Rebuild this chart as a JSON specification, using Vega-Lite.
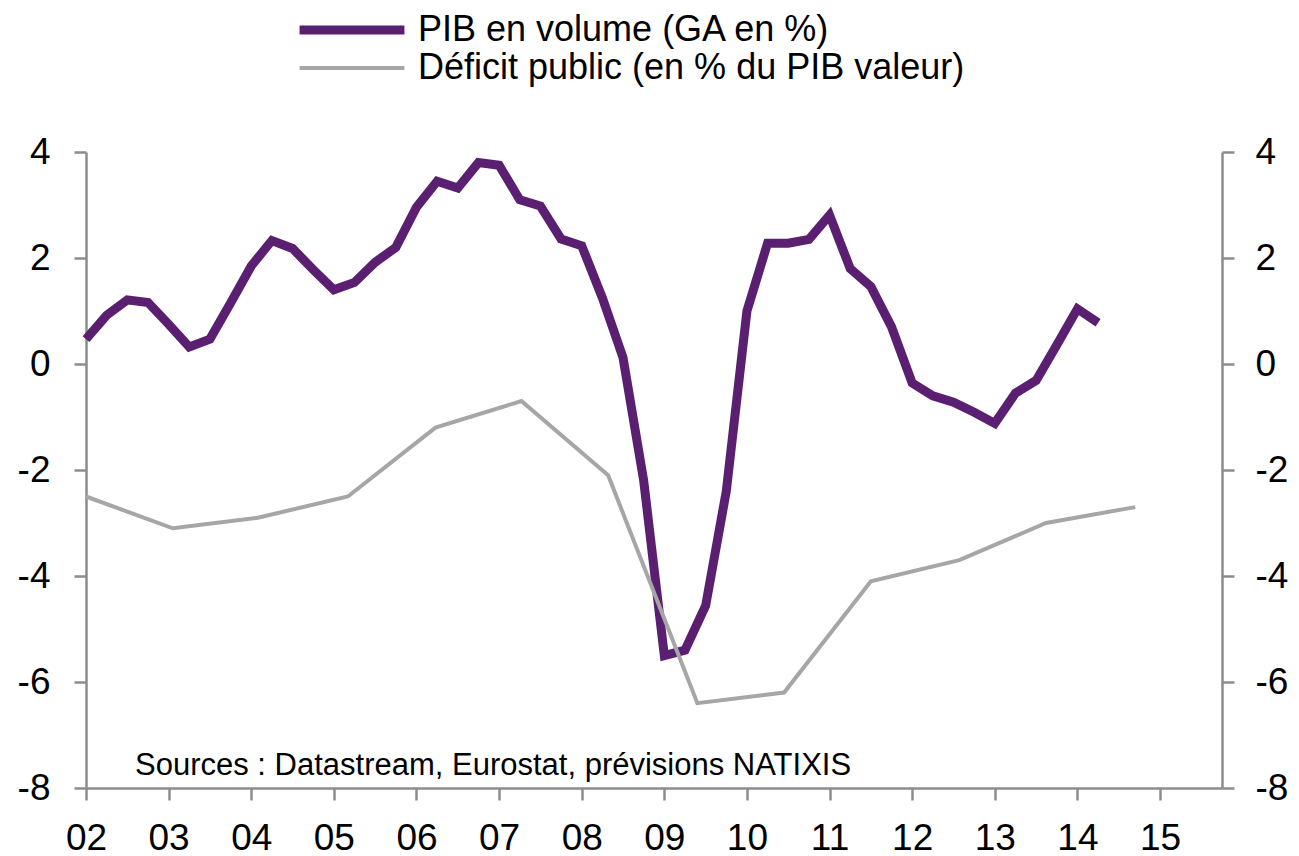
{
  "$schema": "https://vega.github.io/schema/vega-lite/v6.json",
  "width": 1136,
  "height": 636,
  "autosize": {"type": "none"},
  "padding": {"left": 86, "top": 152, "right": 77, "bottom": 68},
  "background": "white",
  "config": {
    "view": {"stroke": null},
    "font": "Liberation Sans",
    "axis": {
      "domainColor": "#8c8c8c",
      "domainWidth": 2.5,
      "tickColor": "#8c8c8c",
      "tickWidth": 2.5,
      "tickSize": 12,
      "labelFontSize": 37,
      "labelFont": "Liberation Sans",
      "labelColor": "black",
      "labelFlush": false,
      "labelOverlap": false,
      "labelBound": false,
      "grid": false,
      "title": null
    },
    "axisLeft": {"labelPadding": 24},
    "axisRight": {"labelPadding": 21},
    "axisBottom": {"labelPadding": 20}
  },
  "datasets": {
    "notes": [
      {"label": "Sources : Datastream, Eurostat, prévisions NATIXIS", "t": 2002.593, "v": -7.755}
    ],
    "series": [
      {"s": "PIB en volume (GA en %)", "t": 2002.00, "v": 0.47},
      {"s": "PIB en volume (GA en %)", "t": 2002.25, "v": 0.92},
      {"s": "PIB en volume (GA en %)", "t": 2002.50, "v": 1.21},
      {"s": "PIB en volume (GA en %)", "t": 2002.75, "v": 1.16},
      {"s": "PIB en volume (GA en %)", "t": 2003.00, "v": 0.75},
      {"s": "PIB en volume (GA en %)", "t": 2003.25, "v": 0.32},
      {"s": "PIB en volume (GA en %)", "t": 2003.50, "v": 0.47},
      {"s": "PIB en volume (GA en %)", "t": 2003.75, "v": 1.15},
      {"s": "PIB en volume (GA en %)", "t": 2004.00, "v": 1.85},
      {"s": "PIB en volume (GA en %)", "t": 2004.25, "v": 2.33},
      {"s": "PIB en volume (GA en %)", "t": 2004.50, "v": 2.18},
      {"s": "PIB en volume (GA en %)", "t": 2004.75, "v": 1.78},
      {"s": "PIB en volume (GA en %)", "t": 2005.00, "v": 1.40},
      {"s": "PIB en volume (GA en %)", "t": 2005.25, "v": 1.54},
      {"s": "PIB en volume (GA en %)", "t": 2005.50, "v": 1.92},
      {"s": "PIB en volume (GA en %)", "t": 2005.75, "v": 2.20},
      {"s": "PIB en volume (GA en %)", "t": 2006.00, "v": 2.96},
      {"s": "PIB en volume (GA en %)", "t": 2006.25, "v": 3.45},
      {"s": "PIB en volume (GA en %)", "t": 2006.50, "v": 3.32},
      {"s": "PIB en volume (GA en %)", "t": 2006.75, "v": 3.80},
      {"s": "PIB en volume (GA en %)", "t": 2007.00, "v": 3.75},
      {"s": "PIB en volume (GA en %)", "t": 2007.25, "v": 3.10},
      {"s": "PIB en volume (GA en %)", "t": 2007.50, "v": 2.98},
      {"s": "PIB en volume (GA en %)", "t": 2007.75, "v": 2.36},
      {"s": "PIB en volume (GA en %)", "t": 2008.00, "v": 2.23},
      {"s": "PIB en volume (GA en %)", "t": 2008.25, "v": 1.25},
      {"s": "PIB en volume (GA en %)", "t": 2008.50, "v": 0.12},
      {"s": "PIB en volume (GA en %)", "t": 2008.75, "v": -2.2},
      {"s": "PIB en volume (GA en %)", "t": 2009.00, "v": -5.5},
      {"s": "PIB en volume (GA en %)", "t": 2009.25, "v": -5.4},
      {"s": "PIB en volume (GA en %)", "t": 2009.50, "v": -4.56},
      {"s": "PIB en volume (GA en %)", "t": 2009.75, "v": -2.4},
      {"s": "PIB en volume (GA en %)", "t": 2010.00, "v": 1.0},
      {"s": "PIB en volume (GA en %)", "t": 2010.25, "v": 2.28},
      {"s": "PIB en volume (GA en %)", "t": 2010.50, "v": 2.28},
      {"s": "PIB en volume (GA en %)", "t": 2010.75, "v": 2.35},
      {"s": "PIB en volume (GA en %)", "t": 2011.00, "v": 2.81},
      {"s": "PIB en volume (GA en %)", "t": 2011.25, "v": 1.80},
      {"s": "PIB en volume (GA en %)", "t": 2011.50, "v": 1.46},
      {"s": "PIB en volume (GA en %)", "t": 2011.75, "v": 0.70},
      {"s": "PIB en volume (GA en %)", "t": 2012.00, "v": -0.36},
      {"s": "PIB en volume (GA en %)", "t": 2012.25, "v": -0.60},
      {"s": "PIB en volume (GA en %)", "t": 2012.50, "v": -0.72},
      {"s": "PIB en volume (GA en %)", "t": 2012.75, "v": -0.91},
      {"s": "PIB en volume (GA en %)", "t": 2013.00, "v": -1.12},
      {"s": "PIB en volume (GA en %)", "t": 2013.25, "v": -0.55},
      {"s": "PIB en volume (GA en %)", "t": 2013.50, "v": -0.31},
      {"s": "PIB en volume (GA en %)", "t": 2013.75, "v": 0.36},
      {"s": "PIB en volume (GA en %)", "t": 2014.00, "v": 1.04},
      {"s": "PIB en volume (GA en %)", "t": 2014.25, "v": 0.78},
      {"s": "Déficit public (en % du PIB valeur)", "t": 2002.00, "v": -2.5},
      {"s": "Déficit public (en % du PIB valeur)", "t": 2003.05, "v": -3.1},
      {"s": "Déficit public (en % du PIB valeur)", "t": 2004.08, "v": -2.9},
      {"s": "Déficit public (en % du PIB valeur)", "t": 2005.17, "v": -2.5},
      {"s": "Déficit public (en % du PIB valeur)", "t": 2006.23, "v": -1.2},
      {"s": "Déficit public (en % du PIB valeur)", "t": 2007.27, "v": -0.7},
      {"s": "Déficit public (en % du PIB valeur)", "t": 2008.32, "v": -2.1},
      {"s": "Déficit public (en % du PIB valeur)", "t": 2009.40, "v": -6.4},
      {"s": "Déficit public (en % du PIB valeur)", "t": 2010.45, "v": -6.2},
      {"s": "Déficit public (en % du PIB valeur)", "t": 2011.50, "v": -4.1},
      {"s": "Déficit public (en % du PIB valeur)", "t": 2012.57, "v": -3.7},
      {"s": "Déficit public (en % du PIB valeur)", "t": 2013.62, "v": -3.0},
      {"s": "Déficit public (en % du PIB valeur)", "t": 2014.70, "v": -2.7}
    ]
  },
  "layer": [
    {
      "mark": {"type": "rule", "color": "#8c8c8c", "strokeWidth": 2.5},
      "encoding": {
        "y": {
          "datum": 0,
          "type": "quantitative",
          "scale": {"domain": [-8, 4], "nice": false, "zero": false},
          "axis": {"orient": "right", "values": [-8, -6, -4, -2, 0, 2, 4], "labelExpr": "toString(datum.value)", "title": null}
        }
      }
    },
    {
      "data": {"name": "series"},
      "mark": {"type": "line", "strokeJoin": "miter", "strokeCap": "butt"},
      "encoding": {
        "x": {
          "field": "t",
          "type": "quantitative",
          "scale": {"domain": [2002, 2015.75], "nice": false, "zero": false},
          "axis": {
            "values": [2002, 2003, 2004, 2005, 2006, 2007, 2008, 2009, 2010, 2011, 2012, 2013, 2014, 2015],
            "labelExpr": "substring(toString(datum.value), 2)",
            "title": null
          }
        },
        "y": {
          "field": "v",
          "type": "quantitative",
          "scale": {"domain": [-8, 4], "nice": false, "zero": false},
          "axis": {"orient": "left", "values": [-8, -6, -4, -2, 0, 2, 4], "labelExpr": "toString(datum.value)", "title": null}
        },
        "color": {
          "field": "s",
          "type": "nominal",
          "sort": ["PIB en volume (GA en %)", "Déficit public (en % du PIB valeur)"],
          "scale": {
            "domain": ["PIB en volume (GA en %)", "Déficit public (en % du PIB valeur)"],
            "range": ["#5a1f70", "#a6a6a6"]
          },
          "legend": {
            "orient": "none",
            "legendX": 209,
            "legendY": -141,
            "title": null,
            "symbolType": "stroke",
            "symbolSize": 11000,
            "clipHeight": 38,
            "labelFontSize": 36,
            "labelFont": "Liberation Sans",
            "labelColor": "black",
            "labelLimit": 0,
            "labelOffset": 9,
            "rowPadding": 0
          }
        },
        "strokeWidth": {
          "field": "s",
          "type": "nominal",
          "sort": ["PIB en volume (GA en %)", "Déficit public (en % du PIB valeur)"],
          "scale": {
            "domain": ["PIB en volume (GA en %)", "Déficit public (en % du PIB valeur)"],
            "range": [9, 4]
          },
          "legend": {
            "orient": "none",
            "legendX": 209,
            "legendY": -141,
            "title": null,
            "symbolType": "stroke",
            "symbolSize": 11000,
            "clipHeight": 38,
            "labelFontSize": 36,
            "labelFont": "Liberation Sans",
            "labelColor": "black",
            "labelLimit": 0,
            "labelOffset": 9,
            "rowPadding": 0
          }
        }
      }
    },
    {
      "data": {"name": "notes"},
      "mark": {
        "type": "text",
        "align": "left",
        "baseline": "alphabetic",
        "fontSize": 31,
        "font": "Liberation Sans",
        "color": "black"
      },
      "encoding": {
        "x": {"field": "t", "type": "quantitative"},
        "y": {"field": "v", "type": "quantitative", "axis": null},
        "text": {"field": "label"}
      }
    }
  ],
  "resolve": {"axis": {"y": "independent"}}
}
